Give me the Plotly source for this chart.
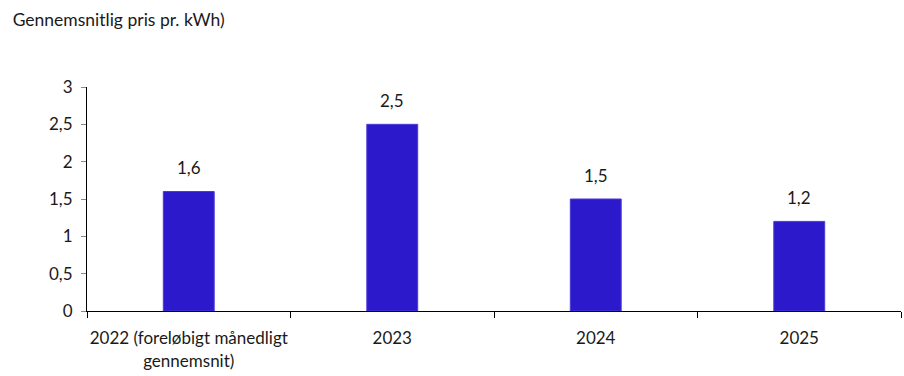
import plotly.graph_objects as go

categories = ["2022 (foreløbigt månedligt<br>gennemsnit)", "2023", "2024", "2025"]
prices = [1.6, 2.5, 1.5, 1.2]
y_ticks = [0, 0.5, 1, 1.5, 2, 2.5, 3]
title_text = "Gennemsnitlig pris pr. kWh)"

FONT = "Lato, Carlito, Calibri, sans-serif"
FS = 17

fig = go.Figure(go.Bar(
    x=categories, y=prices,
    marker=dict(color="#2B19CB", line=dict(color="#4A3AD6", width=1)),
    width=0.25,
))

# data labels: category index on a category axis, value on the y axis
for i, v in enumerate(prices):
    fig.add_annotation(x=i, y=v, text=f"{v:.1f}".replace(".", ","),
                       showarrow=False, yshift=24,
                       font=dict(family=FONT, size=FS, color="#1a1a1a"))

fig.update_layout(
    width=904, height=376,
    margin=dict(l=87, r=3, t=87, b=65),
    paper_bgcolor="white", plot_bgcolor="white",
    separators=",.",
    showlegend=False,
    font=dict(family=FONT, size=FS, color="#1a1a1a"),
    title=dict(text=title_text, xref="container", yref="container",
               x=0.014, y=0.948, xanchor="left", yanchor="middle",
               font=dict(family=FONT, size=17.5, color="#1a1a1a")),
    xaxis=dict(type="category", showline=True, linecolor="black", linewidth=1, automargin=False,
               ticks="outside", tickson="boundaries", ticklen=6, tickcolor="black",
               ticklabelstandoff=12,
               tickangle=0, showgrid=False, tickfont=dict(family=FONT, size=FS)),
    yaxis=dict(range=[0, 3], tickvals=y_ticks, showline=True, linecolor="black",
               linewidth=1, ticks="outside", ticklen=5, tickcolor="#888", automargin=False,
               ticklabelstandoff=5,
               showgrid=False, zeroline=False, tickfont=dict(family=FONT, size=FS)),
    bargap=0.75,
)

fig.write_html("out.html", config={"displayModeBar": False},
               post_script="document.body.style.margin='0';")
